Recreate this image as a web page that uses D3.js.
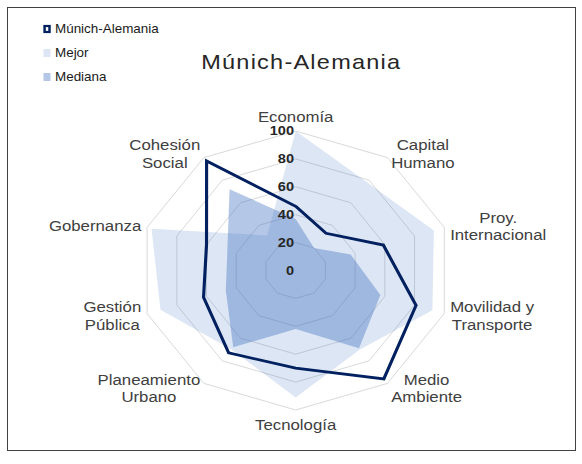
<!DOCTYPE html>
<html lang="es">
<head>
<meta charset="UTF-8">
<script src="https://d3js.org/d3.v7.min.js"></script>
<style>
  body { margin: 0; background: #fff; }
  text { font-family: "Liberation Sans", Arial, sans-serif; }
</style>
</head>
<body>
<div id="chart"></div>
<script>
// data
const categories = ["Economía", "Capital\nHumano", "Proy.\nInternacional", "Movilidad y\nTransporte",
  "Medio\nAmbiente", "Tecnología", "Planeamiento\nUrbano", "Gestión\nPública", "Gobernanza", "Cohesión\nSocial"];
const munich  = [46, 33, 59, 81, 96, 70, 73, 62, 60, 97];
const mejor   = [100, 78, 93, 92, 70, 91, 70, 91, 97, 31];
const mediana = [37, 20, 37, 57, 69, 42, 68, 47, 46, 72];
const ticks = [0, 20, 40, 60, 80, 100];
const seriesNames = ["Múnich-Alemania", "Mejor", "Mediana"];

const W = 582, H = 464;
const sx = 1.12;          // picture is stretched horizontally
const cx = 264, cy = 270.5, R = 139.5;
const navy = "#002060", blue = "#4472c4";

const svg = d3.select("#chart").append("svg")
    .attr("width", W).attr("height", H);

svg.append("rect")
    .attr("x", 7.5).attr("y", 7.5).attr("width", 568).attr("height", 443)
    .attr("fill", "#fff").attr("stroke", "#404040").attr("stroke-width", 1);

const g = svg.append("g").attr("transform", `scale(${sx},1)`);

const r = d3.scaleLinear().domain([0, 100]).range([0, R]);
const step = 2 * Math.PI / categories.length;
const radial = d3.lineRadial()
    .angle((d, i) => i * step)
    .radius(d => r(d))
    .curve(d3.curveLinearClosed);

const chart = g.append("g").attr("transform", `translate(${cx},${cy})`);

// rings
chart.selectAll(".ring")
   .data(ticks.filter(t => t > 0))
   .enter().append("path")
   .attr("class", "ring")
   .attr("d", t => radial(categories.map(() => t)))
   .attr("fill", "none")
   .attr("stroke", "#d9d9d9")
   .attr("stroke-width", 1)
   .attr("vector-effect", "non-scaling-stroke");

// areas
chart.append("path").attr("d", radial(mejor))
   .attr("fill", blue).attr("fill-opacity", 0.18);
chart.append("path").attr("d", radial(mediana))
   .attr("fill", blue).attr("fill-opacity", 0.4);
chart.append("path").attr("d", radial(munich))
   .attr("fill", "none").attr("stroke", navy).attr("stroke-width", 2.8)
   .attr("stroke-linejoin", "miter");

// tick labels
chart.selectAll(".tick")
   .data(ticks)
   .enter().append("text")
   .attr("x", -1.5)
   .attr("y", t => -r(t))
   .attr("text-anchor", "end")
   .attr("dominant-baseline", "central")
   .style("font-size", "13px").style("font-weight", "bold")
   .attr("fill", "#262626")
   .text(t => t);

// category labels
const Rl = R + 5.5, lh = 17.5;
categories.forEach((c, i) => {
  const a = i * step, dx = Math.sin(a), dy = -Math.cos(a);
  const lines = c.split("\n");
  const t = chart.append("text")
      .attr("text-anchor", "middle")
      .attr("dominant-baseline", "central")
      .style("font-size", "15px")
      .attr("fill", "#404040");
  const spans = lines.map(l => t.append("tspan").text(l));
  const w = d3.max(spans, s => s.node().getComputedTextLength());
  const h = lines.length * lh;
  const x = dx * Rl + (Math.abs(dx) > 0.1 ? Math.sign(dx) * w / 2 : 0);
  const y = dy * Rl + (Math.abs(dy) > 0.95 ? Math.sign(dy) * h / 2 : 0);
  spans.forEach((s, k) => s
     .attr("x", x)
     .attr("y", y - (lines.length - 1) * lh / 2 + k * lh));
});

// title
g.append("text")
   .attr("x", 269).attr("y", 69)
   .attr("text-anchor", "middle")
   .style("font-size", "21px").style("letter-spacing", "1.1px")
   .attr("fill", "#262626")
   .text("Múnich-Alemania");

// legend
const legend = g.append("g").attr("transform", "translate(38.8,0)");
const ly = [29, 53, 77];
seriesNames.forEach((s, i) => {
  if (i === 0) {
    legend.append("rect").attr("x", 1).attr("y", ly[i] - 3).attr("width", 4.4).attr("height", 6)
      .attr("fill", "#fff").attr("stroke", navy).attr("stroke-width", 2.2);
  } else {
    legend.append("rect").attr("x", 0).attr("y", ly[i] - 4).attr("width", 6.3).attr("height", 8)
      .attr("fill", blue).attr("fill-opacity", i === 1 ? 0.18 : 0.4);
  }
  legend.append("text")
     .attr("x", 10.3).attr("y", ly[i])
     .attr("dominant-baseline", "central")
     .style("font-size", "12px")
     .attr("fill", "#1a1a1a")
     .text(s);
});
</script>
</body>
</html>
